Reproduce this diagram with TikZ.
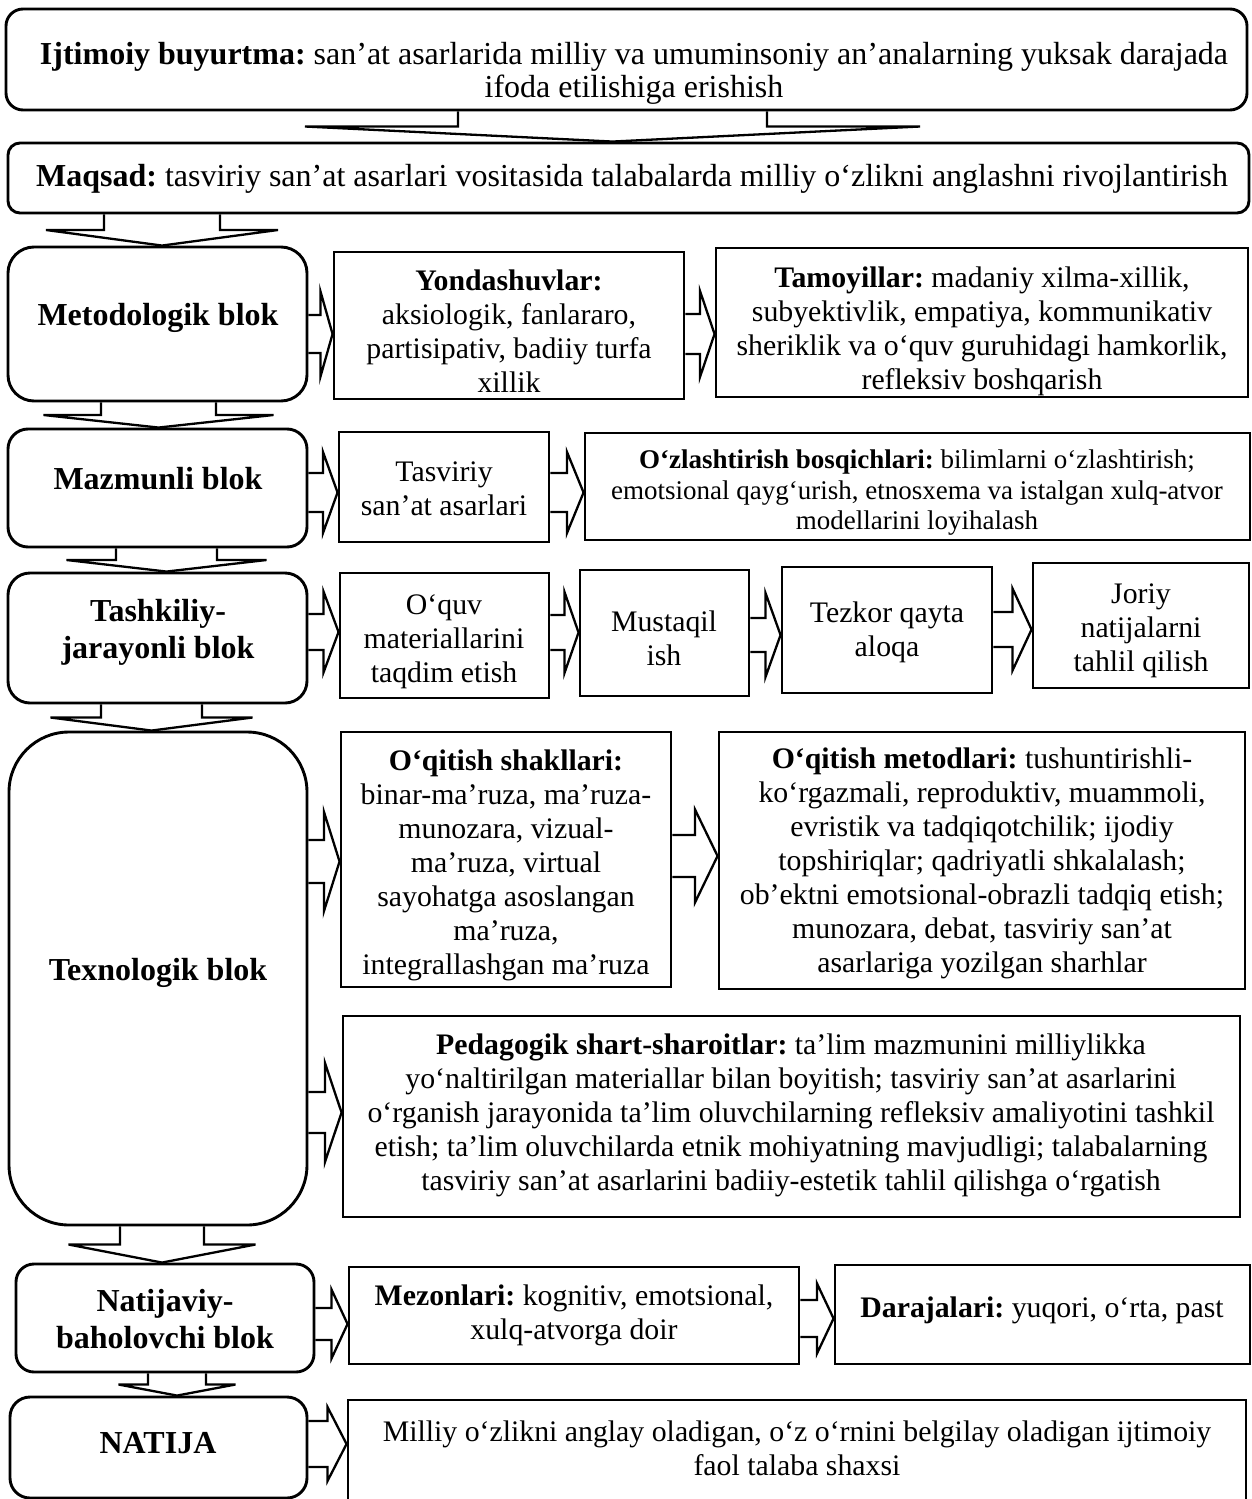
\documentclass[tikz,border=0pt]{standalone}
\usepackage{fontspec}
\setmainfont{Liberation Serif}
\usetikzlibrary{calc}
\frenchspacing
\tikzset{
  bx/.style={draw, line width=2.9pt, inner sep=0pt},
  rbx/.style={bx, rounded corners=#1},
  txt/.style={align=center, inner sep=0pt, font=\fontsize{29.8}{34}\selectfont\frenchspacing},
  ltxt/.style={align=center, inner sep=0pt, font=\fontsize{32}{33}\selectfont\frenchspacing},
  stxt/.style={align=center, inner sep=0pt, font=\fontsize{27}{30.5}\selectfont\frenchspacing},
  btxt/.style={align=center, inner sep=0pt, font=\fontsize{32}{37}\selectfont\bfseries\frenchspacing},
  barrow/.style={draw, line width=2.3pt},
}
\newcommand\mkbox[6]{\node[#2, minimum width={((#5)-(#3))*1pt}, minimum height={((#6)-(#4))*1pt}] (#1) at ({((#3)+(#5))/2},{((#4)+(#6))/2}) {};}
\newcommand\dnarr[5]{\draw[barrow] let \p1=(#1.south), \p2=(#2.north), \p3=($(\p1)!0.5!(\p2)$) in
  ({(#3-#4)*1pt},\y1) -- ({(#3-#4)*1pt},\y3) -- ({(#3-#5)*1pt},\y3) -- ({(#3)*1pt},\y2) -- ({(#3+#5)*1pt},\y3) -- ({(#3+#4)*1pt},\y3) -- ({(#3+#4)*1pt},\y1);}
\newcommand\rtarr[5]{\draw[barrow] let \p1=(#1.east), \p2=(#2.west), \p3=($(\p1)!0.5!(\p2)$) in
  (\x1,{-(#3-#4)*1pt}) -- (\x3,{-(#3-#4)*1pt}) -- (\x3,{-(#3-#5)*1pt}) -- (\x2,{-(#3)*1pt}) -- (\x3,{-(#3+#5)*1pt}) -- (\x3,{-(#3+#4)*1pt}) -- (\x1,{-(#3+#4)*1pt});}
\begin{document}
\begin{tikzpicture}[x=1pt,y=-1pt]
\useasboundingbox (0,0) rectangle (1252,1499);
\clip (0,0) rectangle (1252,1499);
\fill[white] (0,0) rectangle (1252,1499);
% boxes
\mkbox{top}{rbx=17pt}{6}{9}{1247}{110}
\mkbox{maqsad}{rbx=12pt}{8}{143}{1249}{213}
\mkbox{metod}{rbx=26pt}{8}{247}{307}{401}
\mkbox{yond}{bx}{334}{252}{684}{399}
\mkbox{tamoy}{bx}{716}{248}{1248}{397}
\mkbox{mazmun}{rbx=20pt}{8}{429}{307}{547}
\mkbox{tasv}{bx}{339}{432}{549}{542}
\mkbox{ozl}{bx}{585}{433}{1250}{540}
\mkbox{tashkil}{rbx=22pt}{8}{573}{307}{703}
\mkbox{oquv}{bx}{340}{573}{549}{698}
\mkbox{must}{bx}{580}{570}{749}{696}
\mkbox{tezk}{bx}{782}{567}{992}{693}
\mkbox{joriy}{bx}{1033}{563}{1249}{688}
\mkbox{texno}{rbx=60pt}{9}{732}{307}{1225}
\mkbox{shakl}{bx}{341}{732}{671}{987}
\mkbox{metodl}{bx}{719}{732}{1245}{989}
\mkbox{pedag}{bx}{343}{1016}{1240}{1217}
\mkbox{natij}{rbx=18pt}{16}{1264}{314}{1372}
\mkbox{mezon}{bx}{349}{1267}{799}{1364}
\mkbox{daraj}{bx}{835}{1265}{1250}{1364}
\mkbox{natija}{rbx=20pt}{10}{1397}{307}{1498}
\mkbox{milliy}{bx}{348}{1400}{1246}{1540}
% texts
\node[ltxt] (t-top) at (634,73) {\textbf{Ijtimoiy buyurtma:} san’at asarlarida milliy va umuminsoniy an’analarning yuksak darajada\\ifoda etilishiga erishish};
\node[ltxt] (t-maqsad) at (632,179) {\textbf{Maqsad:} tasviriy san’at asarlari vositasida talabalarda milliy o‘zlikni anglashni rivojlantirish};
\node[btxt] (t-metod) at (158,318) {Metodologik blok};
\node[txt] (t-yond) at (509,331) {\textbf{Yondashuvlar:}\\aksiologik, fanlararo,\\partisipativ, badiiy turfa\\xillik};
\node[txt] (t-tamoy) at (982,331) {\textbf{Tamoyillar:} madaniy xilma-xillik,\\subyektivlik, empatiya, kommunikativ\\sheriklik va o‘quv guruhidagi hamkorlik,\\refleksiv boshqarish};
\node[btxt] (t-mazmun) at (158,479) {Mazmunli blok};
\node[txt] (t-tasv) at (444,489) {Tasviriy\\san’at asarlari};
\node[stxt] (t-ozl) at (917,493) {\textbf{O‘zlashtirish bosqichlari:} bilimlarni o‘zlashtirish;\\emotsional qayg‘urish, etnosxema va istalgan xulq-atvor\\modellarini loyihalash};
\node[btxt] (t-tashkil) at (158,632) {Tashkiliy-\\jarayonli blok};
\node[txt] (t-oquv) at (444,642) {O‘quv\\materiallarini\\taqdim etish};
\node[txt] (t-must) at (664,638) {Mustaqil\\ish};
\node[txt] (t-tezk) at (887,632) {Tezkor qayta\\aloqa};
\node[txt] (t-joriy) at (1141,631) {Joriy\\natijalarni\\tahlil qilish};
\node[btxt] (t-texno) at (158,973) {Texnologik blok};
\node[txt] (t-shakl) at (506,865) {\textbf{O‘qitish shakllari:}\\binar-ma’ruza, ma’ruza-\\munozara, vizual-\\ma’ruza, virtual\\sayohatga asoslangan\\ma’ruza,\\integrallashgan ma’ruza};
\node[txt] (t-metodl) at (982,863) {\textbf{O‘qitish metodlari:} tushuntirishli-\\ko‘rgazmali, reproduktiv, muammoli,\\evristik va tadqiqotchilik; ijodiy\\topshiriqlar; qadriyatli shkalalash;\\ob’ektni emotsional-obrazli tadqiq etish;\\munozara, debat, tasviriy san’at\\asarlariga yozilgan sharhlar};
\node[txt] (t-pedag) at (791,1115) {\textbf{Pedagogik shart-sharoitlar:} ta’lim mazmunini milliylikka\\yo‘naltirilgan materiallar bilan boyitish; tasviriy san’at asarlarini\\o‘rganish jarayonida ta’lim oluvchilarning refleksiv amaliyotini tashkil\\etish; ta’lim oluvchilarda etnik mohiyatning mavjudligi; talabalarning\\tasviriy san’at asarlarini badiiy-estetik tahlil qilishga o‘rgatish};
\node[btxt] (t-natij) at (165,1319) {Natijaviy-\\baholovchi blok};
\node[txt] (t-mezon) at (574,1315) {\textbf{Mezonlari:} kognitiv, emotsional,\\xulq-atvorga doir};
\node[txt] (t-daraj) at (1042,1310) {\textbf{Darajalari:} yuqori, o‘rta, past};
\node[btxt] (t-natija) at (158,1443) {NATIJA};
\node[txt] (t-milliy) at (797,1448) {Milliy o‘zlikni anglay oladigan, o‘z o‘rnini belgilay oladigan ijtimoiy\\faol talaba shaxsi};
% down arrows
\dnarr{top}{maqsad}{612.5}{154.5}{307.5}
\dnarr{maqsad}{metod}{162}{58}{116}
\dnarr{metod}{mazmun}{158.5}{57.5}{115}
\dnarr{mazmun}{tashkil}{166.5}{50.5}{100}
\dnarr{tashkil}{texno}{151.5}{50.5}{101}
\dnarr{texno}{natij}{162}{42}{93.5}
\dnarr{natij}{natija}{177}{29}{58.5}
% right arrows
\rtarr{metod}{yond}{334}{19}{42.5}
\rtarr{yond}{tamoy}{334}{20}{43}
\rtarr{mazmun}{tasv}{492.5}{19.5}{40.5}
\rtarr{tasv}{ozl}{492.5}{19.5}{40.5}
\rtarr{tashkil}{oquv}{632}{18}{40.5}
\rtarr{oquv}{must}{632.5}{17.5}{40.5}
\rtarr{must}{tezk}{635}{17}{42}
\rtarr{tezk}{joriy}{629.5}{17.5}{41}
\rtarr{texno}{shakl}{861.5}{21.5}{49.5}
\rtarr{shakl}{metodl}{856}{21}{46.5}
\rtarr{texno}{pedag}{1112.5}{20.5}{49.5}
\rtarr{natij}{mezon}{1324}{16}{34.5}
\rtarr{mezon}{daraj}{1318.5}{18.5}{35}
\rtarr{natija}{milliy}{1444}{23}{37}
\end{tikzpicture}
\end{document}
